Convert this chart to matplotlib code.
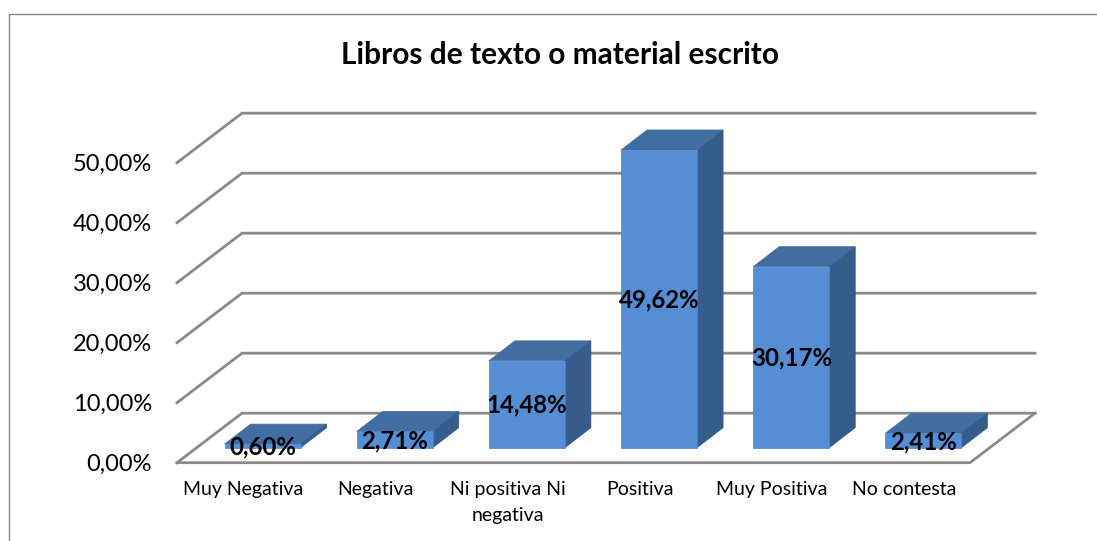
import matplotlib
matplotlib.use('Agg')
import matplotlib.pyplot as plt
from matplotlib.lines import Line2D

categorias = ['Muy Negativa', 'Negativa', 'Ni positiva Ni\nnegativa', 'Positiva', 'Muy Positiva', 'No contesta']
valores = [0.60, 2.71, 14.48, 49.62, 30.17, 2.41]
etiquetas = ['0,60%', '2,71%', '14,48%', '49,62%', '30,17%', '2,41%']
marcas_y = [0, 10, 20, 30, 40, 50]
marcas_y_txt = ['0,00%', '10,00%', '20,00%', '30,00%', '40,00%', '50,00%']

plt.rcParams['font.family'] = ['Lato', 'DejaVu Sans']

W, H = 1097, 541
fig = plt.figure(figsize=(W / 100, H / 100), dpi=100)
ax = fig.add_axes([177 / W, 1 - 462.7 / H, 793 / W, 300 / H])
ax.set_xlim(0, 6)
ax.set_ylim(0, 50)
ax.patch.set_visible(False)
for s in ax.spines.values():
    s.set_visible(False)

# unidades de datos por pixel
px_x = 6 / 793
px_y = 50 / 300

# fondo de la perspectiva
prof_x, prof_y = 65 * px_x, 49.5 * px_y
# el pie de la barra queda adentro del piso
pie_x, pie_y = 19.5 * px_x, 15 * px_y
# profundidad de cada barra
barra_x, barra_y = 26 * px_x, 20 * px_y
ancho = 76 * px_x

gris = '#8a8a8a'
for v in marcas_y:
    ax.plot([0, prof_x, 6 + prof_x], [v, v + prof_y, v + prof_y], color=gris, lw=2,
            clip_on=False, zorder=1, solid_joinstyle='miter')
ax.plot([0, 6, 6 + prof_x], [0, 0, prof_y], color=gris, lw=2, clip_on=False, zorder=1,
        solid_joinstyle='miter')

centros = [i + 0.5 + pie_x for i in range(len(valores))]
for c, v, txt in zip(centros, valores, etiquetas):
    x0, x1 = c - ancho / 2, c + ancho / 2
    y0, y1 = pie_y, pie_y + v
    ax.fill([x0, x0 + barra_x, x1 + barra_x, x1], [y1, y1 + barra_y, y1 + barra_y, y1],
            color='#416da3', lw=0.5, clip_on=False, zorder=3)
    ax.fill([x1, x1 + barra_x, x1 + barra_x, x1], [y0, y0 + barra_y, y1 + barra_y, y1],
            color='#355c8a', lw=0.5, clip_on=False, zorder=3)
    ax.bar(c, v, bottom=pie_y, width=ancho, color='#558ed5', edgecolor='#4f84c6', lw=0.5,
           clip_on=False, zorder=4)
    ax.text(c, y0 + v / 2 - px_y, txt, ha='center', va='center', fontsize=17.3, fontweight='bold',
            color='black', zorder=5)

ax.set_xticks([i + 0.5 for i in range(len(categorias))])
ax.set_xticklabels(categorias, fontsize=14, linespacing=1.65)
ax.set_yticks(marcas_y)
ax.set_yticklabels(marcas_y_txt, fontsize=17)
ax.tick_params(axis='x', length=0, pad=13)
ax.tick_params(axis='y', length=0, pad=18)

fig.text(560 / W, 1 - 55 / H, 'Libros de texto o material escrito', ha='center', va='center',
         fontsize=21.5, fontweight='bold', color='black')

# marco del grafico
fig.add_artist(Line2D([8.5 / W, 8.5 / W, 1], [0, 1 - 13.5 / H, 1 - 13.5 / H], color='#868686', lw=1))

fig.savefig('out.png', dpi=100)
